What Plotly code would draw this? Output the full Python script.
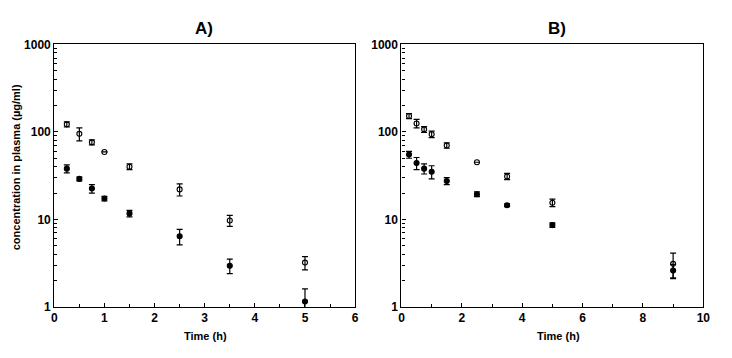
import plotly.graph_objects as go

# ---- data ----
time_a = [0.25, 0.5, 0.75, 1.0, 1.5, 2.5, 3.5, 5.0]
open_a = [122, 95, 76, 59, 40, 22, 9.7, 3.2]
open_a_sd = [8, 16, 5, 0, 3, 3.5, 1.4, 0.55]
filled_a = [38, 29, 22.5, 17.3, 11.7, 6.4, 2.95, 1.15]
filled_a_sd = [4, 1.5, 2.5, 1.0, 1.0, 1.3, 0.55, 0.45]

time_b = [0.25, 0.5, 0.75, 1.0, 1.5, 2.5, 3.5, 5.0, 9.0]
open_b = [152, 125, 107, 94, 70, 45, 31, 15.5, 3.1]
open_b_sd = [10, 14, 8, 8, 5, 0, 2.5, 1.5, 1.0]
filled_b = [55, 44, 38, 35, 27.5, 19.4, 14.5, 8.6, 2.6]
filled_b_sd = [5, 7, 5, 6, 2.5, 1.2, 0.5, 0.5, 0.45]

y_ticks = [1, 10, 100, 1000]
y_ticktext = ["1", "10", "100", "1000"]
y_minor = [m * d for d in (1, 10, 100) for m in range(2, 10)]

panel_titles = ["A)", "B)"]
x_title = "Time (h)"
y_title = "concentration in plasma (µg/ml)"

FONT = "Liberation Sans, Arial, sans-serif"

fig = go.Figure()

def add_series(x, y, sd, filled, xa, ya):
    fig.add_trace(go.Scatter(
        x=x, y=y, mode="markers", xaxis=xa, yaxis=ya,
        marker=dict(symbol="circle" if filled else "circle-open",
                    size=5, color="black", line=dict(width=1.1, color="black")),
        error_y=dict(type="data", array=sd, symmetric=True,
                     color="black", thickness=1.2, width=3),
        showlegend=False, cliponaxis=True))

add_series(time_a, open_a, open_a_sd, False, "x", "y")
add_series(time_a, filled_a, filled_a_sd, True, "x", "y")
add_series(time_b, open_b, open_b_sd, False, "x2", "y2")
add_series(time_b, filled_b, filled_b_sd, True, "x2", "y2")

axis_common = dict(showline=True, linecolor="black", linewidth=1.3, mirror=True,
                   ticks="inside", ticklen=4, tickwidth=1, tickcolor="black",
                   showgrid=False, zeroline=False,
                   tickfont=dict(family=FONT, size=12, color="black", weight="bold"))

ydom = [1 - 312 / 358, 1 - 39 / 358]

fig.update_layout(
    width=732, height=358,
    margin=dict(l=0, r=0, t=0, b=0),
    paper_bgcolor="white", plot_bgcolor="white",
    font=dict(family=FONT, color="black"),
    xaxis=dict(domain=[52 / 732, 357 / 732], range=[0, 6], tickmode="linear", tick0=0, dtick=1,
               minor=dict(ticks="inside", ticklen=3, dtick=0.5, tick0=0, tickcolor="black", showgrid=False),
               anchor="y", **axis_common),
    yaxis=dict(domain=ydom, type="log", range=[0, 3], tickvals=y_ticks, ticktext=y_ticktext,
               minor=dict(ticks="inside", ticklen=3, tickvals=y_minor, tickcolor="black", showgrid=False),
               anchor="x", **axis_common),
    xaxis2=dict(domain=[404 / 732, 710 / 732], range=[0, 10], tickmode="linear", tick0=0, dtick=2,
                minor=dict(ticks="inside", ticklen=3, dtick=1, tick0=0, tickcolor="black", showgrid=False),
                anchor="y2", **axis_common),
    yaxis2=dict(domain=ydom, type="log", range=[0, 3], tickvals=y_ticks, ticktext=y_ticktext,
                minor=dict(ticks="inside", ticklen=3, tickvals=y_minor, tickcolor="black", showgrid=False),
                anchor="x2", **axis_common),
)

annots = [
    dict(text=panel_titles[0], x=204 / 732, y=1 - 22 / 358, font=dict(size=17)),
    dict(text=panel_titles[1], x=562 / 732, y=1 - 22 / 358, font=dict(size=17)),
    dict(text=x_title, x=205 / 732, y=1 - 342 / 358, font=dict(size=11)),
    dict(text=x_title, x=563 / 732, y=1 - 342 / 358, font=dict(size=11)),
    dict(text=y_title, x=14 / 732, y=1 - 167 / 358, font=dict(size=11), textangle=-90),
]
for a in annots:
    a["font"].update(family=FONT, color="black", weight="bold")
    fig.add_annotation(xref="paper", yref="paper", showarrow=False,
                       xanchor="center", yanchor="middle", **a)

fig.write_html("out.html")
